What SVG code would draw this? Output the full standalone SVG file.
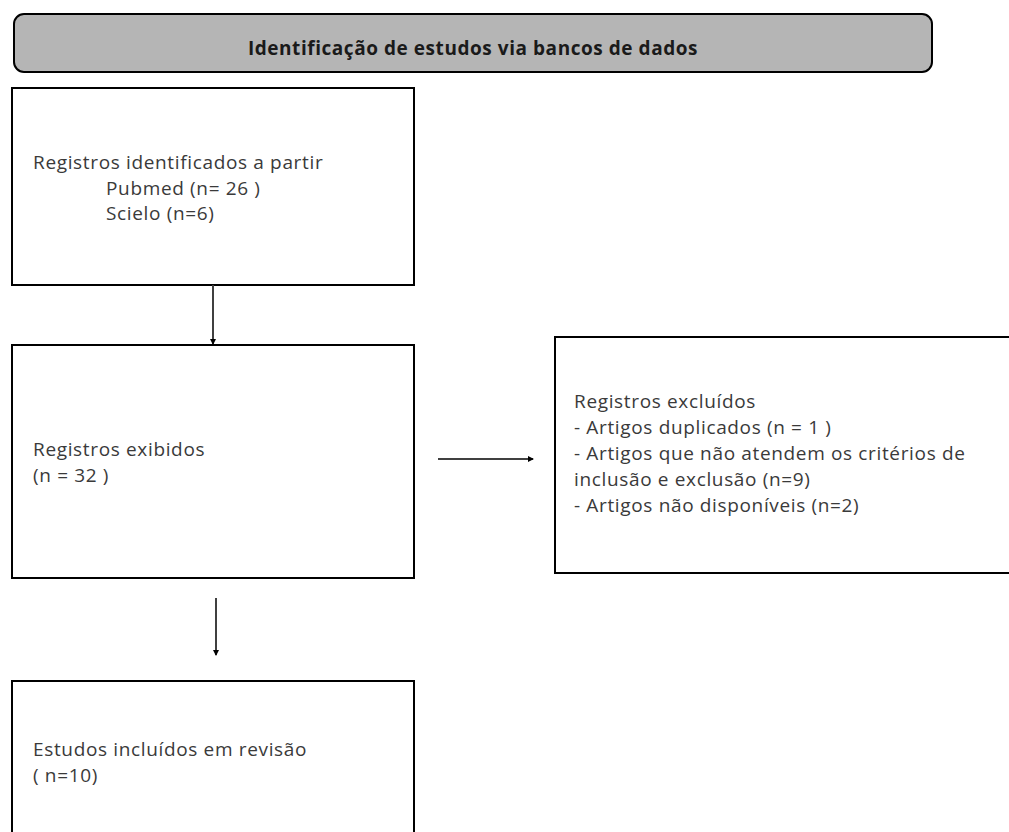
<svg xmlns="http://www.w3.org/2000/svg" width="1009" height="832" viewBox="0 0 1009 832">
<style>
.box{fill:#fff;stroke:#000;stroke-width:2}
.t{font-family:"Open Sans","Noto Sans",sans-serif;font-size:19px;letter-spacing:0.65px;fill:#3a3a3a}
.h{font-family:"Open Sans","Noto Sans",sans-serif;font-size:19px;letter-spacing:0.55px;font-weight:bold;fill:#1a1a1a}
.c{stroke:#404040;stroke-width:2;fill:none}
</style>
<defs>
<marker id="ah" markerWidth="6" markerHeight="6" refX="5" refY="3" orient="auto" markerUnits="userSpaceOnUse">
<path d="M0,0 L6,3 L0,6 Z" fill="#000"/>
</marker>
</defs>
<rect width="1009" height="832" fill="#fff"/>
<g id="header">
<rect x="14" y="14" width="918" height="58" rx="10" ry="10" fill="#b5b5b5" stroke="#000" stroke-width="2"/>
<text class="h" x="473" y="55" text-anchor="middle">Identificação de estudos via bancos de dados</text>
</g>
<g id="identified">
<rect class="box" x="12" y="88" width="402" height="197"/>
<text class="t" x="33" y="169">Registros identificados a partir</text>
<text class="t" x="106" y="195">Pubmed (n= 26 )</text>
<text class="t" x="106" y="220">Scielo (n=6)</text>
</g>
<g id="screened">
<rect class="box" x="12" y="345" width="402" height="233"/>
<text class="t" x="33" y="456">Registros exibidos</text>
<text class="t" x="33" y="482">(n = 32 )</text>
</g>
<g id="excluded">
<rect class="box" x="555" y="337" width="460" height="236"/>
<text class="t" x="574" y="408">Registros excluídos</text>
<text class="t" x="574" y="434">- Artigos duplicados (n = 1 )</text>
<text class="t" x="574" y="460">- Artigos que não atendem os critérios de</text>
<text class="t" x="574" y="486">inclusão e exclusão (n=9)</text>
<text class="t" x="574" y="512">- Artigos não disponíveis (n=2)</text>
</g>
<g id="included">
<rect class="box" x="12" y="681" width="402" height="160"/>
<text class="t" x="33" y="756">Estudos incluídos em revisão</text>
<text class="t" x="33" y="782">( n=10)</text>
</g>
<g id="connectors">
<line class="c" x1="213" y1="285" x2="213" y2="344" marker-end="url(#ah)"/>
<line class="c" x1="438" y1="459" x2="533" y2="459" marker-end="url(#ah)"/>
<line class="c" x1="216" y1="598" x2="216" y2="655" marker-end="url(#ah)"/>
</g>
</svg>
